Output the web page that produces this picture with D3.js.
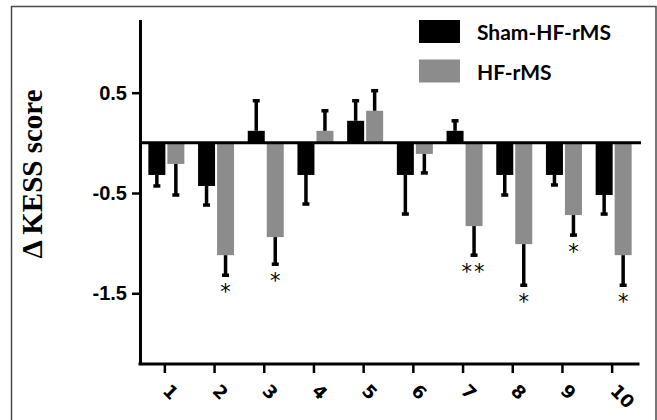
<!DOCTYPE html>
<html>
<head>
<meta charset="utf-8">
<script src="https://cdn.jsdelivr.net/npm/d3@7"></script>
<style>
  html, body { margin: 0; padding: 0; background: #fff; }
  svg { display: block; }
</style>
</head>
<body>
<svg id="chart" width="657" height="420"></svg>
<script>
// ---- data ----
const categories = ["1", "2", "3", "4", "5", "6", "7", "8", "9", "10"];
const seriesNames = ["Sham-HF-rMS", "HF-rMS"];
const shamValues = [-0.32, -0.43, 0.12, -0.32, 0.22, -0.32, 0.12, -0.32, -0.32, -0.52];
const shamErrors = [0.11, 0.19, 0.30, 0.29, 0.20, 0.39, 0.10, 0.20, 0.10, 0.19];
const hfValues = [-0.21, -1.12, -0.94, 0.12, 0.32, -0.11, -0.83, -1.01, -0.72, -1.12];
const hfErrors = [0.31, 0.20, 0.27, 0.20, 0.20, 0.19, 0.29, 0.41, 0.20, 0.30];
const hfSignificance = ["", "*", "*", "", "", "", "**", "*", "*", "*"];
const yTickValues = [0.5, -0.5, -1.5];
const yLabel = "\u0394 KESS score";

const colors = { "Sham-HF-rMS": "#000000", "HF-rMS": "#8c8c8c" };

const svg = d3.select("#chart");

// frame
svg.append("rect")
  .attr("x", 11.5).attr("y", 6.5)
  .attr("width", 644.5).attr("height", 430)
  .attr("fill", "none").attr("stroke", "#4a4a4a").attr("stroke-width", 1.5);

// scales
const x = d3.scaleBand().domain(categories).range([140, 637]).paddingInner(0).paddingOuter(0);
const xSub = d3.scaleBand().domain(seriesNames).range([-16.5, 19.5]).paddingInner(0.105);
const y = d3.scaleLinear().domain([-2.2, 1.23]).range([363.5, 19.5]);

const rows = [];
categories.forEach((c, i) => {
  rows.push({ cat: c, series: "Sham-HF-rMS", value: shamValues[i], err: shamErrors[i], sig: "" });
  rows.push({ cat: c, series: "HF-rMS", value: hfValues[i], err: hfErrors[i], sig: hfSignificance[i] });
});
const cx = d => x(d.cat) + x.bandwidth() / 2 + xSub(d.series);
const mid = d => cx(d) + xSub.bandwidth() / 2;
const errEnd = d => d.value >= 0 ? d.value + d.err : d.value - d.err;

// bars
svg.append("g").selectAll("rect").data(rows).join("rect")
  .attr("x", d => cx(d))
  .attr("width", xSub.bandwidth())
  .attr("y", d => y(Math.max(0, d.value)))
  .attr("height", d => Math.abs(y(d.value) - y(0)))
  .attr("fill", d => colors[d.series]);

// error bars
const eg = svg.append("g").attr("stroke", "#000");
eg.selectAll("line.stem").data(rows).join("line").attr("class", "stem")
  .attr("x1", d => mid(d)).attr("x2", d => mid(d))
  .attr("y1", d => y(d.value)).attr("y2", d => y(errEnd(d)))
  .attr("stroke-width", 3.5);
eg.selectAll("line.cap").data(rows).join("line").attr("class", "cap")
  .attr("x1", d => mid(d) - 3.5).attr("x2", d => mid(d) + 3.5)
  .attr("y1", d => y(errEnd(d))).attr("y2", d => y(errEnd(d)))
  .attr("stroke-width", 3.5);

// significance
svg.append("g").selectAll("text").data(rows.filter(d => d.sig)).join("text")
  .attr("x", d => mid(d))
  .attr("y", d => y(errEnd(d)) + 24)
  .attr("text-anchor", "middle")
  .attr("font-family", "DejaVu Sans, sans-serif")
  .attr("font-size", 21)
  .attr("letter-spacing", d => d.sig.length > 1 ? 2 : 0)
  .attr("fill", "#000")
  .text(d => d.sig);

// zero line
svg.append("line")
  .attr("x1", 140).attr("x2", 641)
  .attr("y1", y(0)).attr("y2", y(0))
  .attr("stroke", "#000").attr("stroke-width", 3);

// y axis
const yAxis = svg.append("g").attr("transform", "translate(140,0)")
  .call(d3.axisLeft(y).tickValues(yTickValues).tickSize(8).tickSizeOuter(0).tickPadding(5)
    .tickFormat(d => d3.format(".1f")(d).replace("\u2212", "-")));
yAxis.select(".domain").attr("stroke-width", 3);
yAxis.selectAll(".tick line").attr("stroke-width", 2.5);
yAxis.selectAll(".tick text")
  .attr("font-family", "Liberation Sans, Arial, sans-serif")
  .attr("font-weight", "bold").attr("font-size", 20).attr("fill", "#000");

// x axis
const xAxis = svg.append("g").attr("transform", "translate(0,364)")
  .call(d3.axisBottom(x).tickSize(9).tickSizeOuter(0));
xAxis.select(".domain").remove();
xAxis.append("line").attr("x1", 138.5).attr("x2", 639.5).attr("y1", 0).attr("y2", 0)
  .attr("stroke", "#000").attr("stroke-width", 3);
xAxis.selectAll(".tick line").attr("stroke-width", 2.5);
xAxis.selectAll(".tick text")
  .attr("font-family", "DejaVu Sans, sans-serif")
  .attr("font-weight", "bold").attr("font-size", 18).attr("fill", "#000")
  .attr("text-anchor", "start")
  .attr("x", null).attr("y", null).attr("dy", null)
  .attr("transform", "translate(-3,28) rotate(45)");

// y label
svg.append("text")
  .attr("transform", "translate(42,174) rotate(-90)")
  .attr("text-anchor", "middle")
  .attr("font-family", "Liberation Serif, 'Times New Roman', serif")
  .attr("font-weight", "bold").attr("font-size", 29).attr("fill", "#000")
  .text(yLabel);

// legend
const legend = svg.append("g");
seriesNames.forEach((s, i) => {
  const ly = 20 + i * 39.5;
  legend.append("rect").attr("x", 419).attr("y", ly).attr("width", 41).attr("height", 23)
    .attr("fill", colors[s]);
  legend.append("text").attr("x", 477).attr("y", ly + 20)
    .attr("font-family", "Lato, sans-serif").attr("font-weight", "bold").attr("font-size", 21)
    .attr("fill", "#000").text(s);
});
</script>
</body>
</html>
